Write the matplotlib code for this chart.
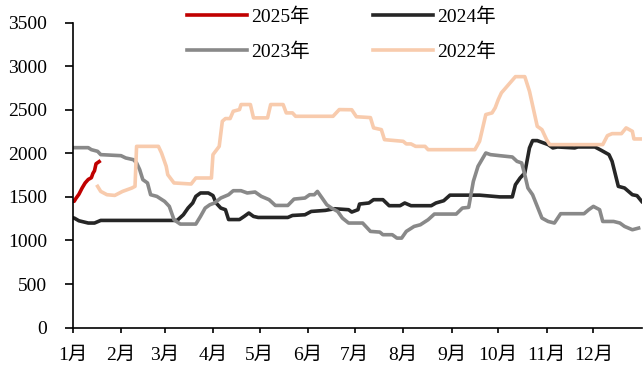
import matplotlib.pyplot as plt

plt.rcParams['font.family'] = ['Liberation Serif', 'Noto Sans CJK SC']
plt.rcParams['font.size'] = 14

# day of year, value
s2025 = [(0, 1450), (1, 1450), (2, 1480), (4, 1530), (6, 1600), (8, 1660), (10, 1700),
         (12, 1720), (13, 1770), (14, 1800), (15, 1880), (17, 1905)]

s2024 = [(0, 1260), (1, 1257), (4, 1226), (10, 1200), (14, 1200), (18, 1230), (67, 1230),
         (71, 1295), (74, 1372), (77, 1430), (79, 1506), (82, 1545), (87, 1545), (90, 1515),
         (92, 1430), (95, 1372), (98, 1353), (100, 1240), (107, 1240), (110, 1276), (113, 1315),
         (116, 1276), (119, 1264), (138, 1264), (141, 1287), (149, 1295), (153, 1333), (162, 1345),
         (168, 1364), (177, 1353), (179, 1326), (183, 1353), (184, 1418), (190, 1430), (193, 1468),
         (199, 1468), (203, 1399), (210, 1399), (213, 1430), (217, 1399), (230, 1399), (233, 1430),
         (238, 1456), (242, 1520), (261, 1520), (274, 1500), (282, 1500), (284, 1640), (287, 1717),
         (290, 1775), (293, 2062), (295, 2146), (298, 2146), (305, 2100), (308, 2062), (311, 2073),
         (322, 2062), (324, 2073), (335, 2073), (339, 2035), (344, 1985), (346, 1908), (350, 1621),
         (354, 1602), (359, 1525), (362, 1514), (365, 1448)]

s2023 = [(0, 2065), (10, 2065), (12, 2042), (16, 2023), (18, 1985), (31, 1973), (34, 1947),
         (39, 1927), (41, 1890), (43, 1813), (45, 1698), (48, 1660), (50, 1525), (54, 1506),
         (59, 1448), (62, 1391), (65, 1238), (69, 1188), (79, 1188), (82, 1276), (85, 1372),
         (88, 1410), (91, 1430), (95, 1487), (100, 1525), (103, 1571), (108, 1571), (112, 1545),
         (117, 1556), (121, 1506), (126, 1468), (130, 1402), (138, 1402), (142, 1475), (149, 1487),
         (152, 1525), (155, 1525), (157, 1563), (160, 1487), (163, 1410), (166, 1372), (170, 1333),
         (173, 1257), (177, 1200), (186, 1200), (191, 1104), (197, 1096), (199, 1066), (205, 1066),
         (208, 1027), (211, 1027), (214, 1104), (219, 1161), (223, 1180), (228, 1238), (232, 1303),
         (246, 1303), (250, 1372), (254, 1380), (257, 1678), (260, 1851), (265, 2004), (268, 1985),
         (274, 1973), (282, 1958), (285, 1908), (288, 1890), (290, 1755), (292, 1602), (295, 1525),
         (298, 1391), (301, 1257), (305, 1218), (309, 1200), (313, 1307), (328, 1307), (331, 1353),
         (334, 1391), (338, 1353), (340, 1218), (347, 1218), (351, 1200), (354, 1161), (359, 1123),
         (363, 1142)]

s2022 = [(16, 1621), (18, 1563), (22, 1525), (27, 1517), (32, 1563), (38, 1602), (40, 1621),
         (41, 2080), (55, 2080), (57, 2004), (60, 1851), (61, 1755), (65, 1660), (76, 1648),
         (79, 1717), (89, 1717), (90, 1985), (94, 2080), (96, 2368), (98, 2399), (101, 2399),
         (103, 2483), (107, 2502), (108, 2560), (114, 2560), (116, 2407), (125, 2407), (127, 2560),
         (135, 2560), (137, 2464), (141, 2464), (143, 2425), (167, 2425), (171, 2502), (179, 2500),
         (182, 2420), (191, 2410), (193, 2292), (198, 2272), (200, 2157), (212, 2138), (214, 2108),
         (217, 2108), (220, 2080), (226, 2080), (228, 2042), (258, 2042), (261, 2138), (265, 2445),
         (269, 2464), (271, 2522), (273, 2617), (275, 2694), (284, 2880), (290, 2880), (293, 2713),
         (298, 2310), (301, 2272), (304, 2157), (306, 2100), (340, 2100), (343, 2203), (346, 2226),
         (352, 2226), (355, 2292), (359, 2253), (360, 2165), (364, 2165)]

month_starts = [0, 31, 59, 90, 120, 151, 181, 212, 243, 273, 304, 334]
month_labels = [f'{m}月' for m in range(1, 13)]

fig = plt.figure(figsize=(6.43, 3.71), dpi=100)
ax = fig.add_axes([0.113, 0.117, 0.885, 0.822])

series = [('2025年', s2025, '#C00000'), ('2024年', s2024, '#262626'),
          ('2023年', s2023, '#898989'), ('2022年', s2022, '#F8CBAD')]
lines = {}
for name, data, color in series:
    x = [d for d, _ in data]
    y = [v for _, v in data]
    lines[name], = ax.plot(x, y, color=color, lw=2.6, label=name)

ax.set_xlim(0, 365)
ax.set_ylim(0, 3500)
ax.set_yticks(range(0, 3501, 500))
ax.set_xticks(month_starts)
ax.set_xticklabels(month_labels)
ax.spines['top'].set_visible(False)
ax.spines['right'].set_visible(False)
ax.spines['left'].set_linewidth(1.2)
ax.spines['bottom'].set_linewidth(1.2)
ax.tick_params(axis='both', direction='out', width=1.2, labelsize=14)
ax.tick_params(axis='y', length=5.5, pad=13)
ax.tick_params(axis='x', length=3.7, pad=10)

order = ['2025年', '2023年', '2024年', '2022年']
fig.legend([lines[k] for k in order], order, ncol=2, frameon=False,
           loc='upper left', bbox_to_anchor=(0.263, 1.027), handlelength=3.1,
           columnspacing=3.25, labelspacing=0.85, handletextpad=0.2, fontsize=14)

fig.savefig('out.png', dpi=100)
